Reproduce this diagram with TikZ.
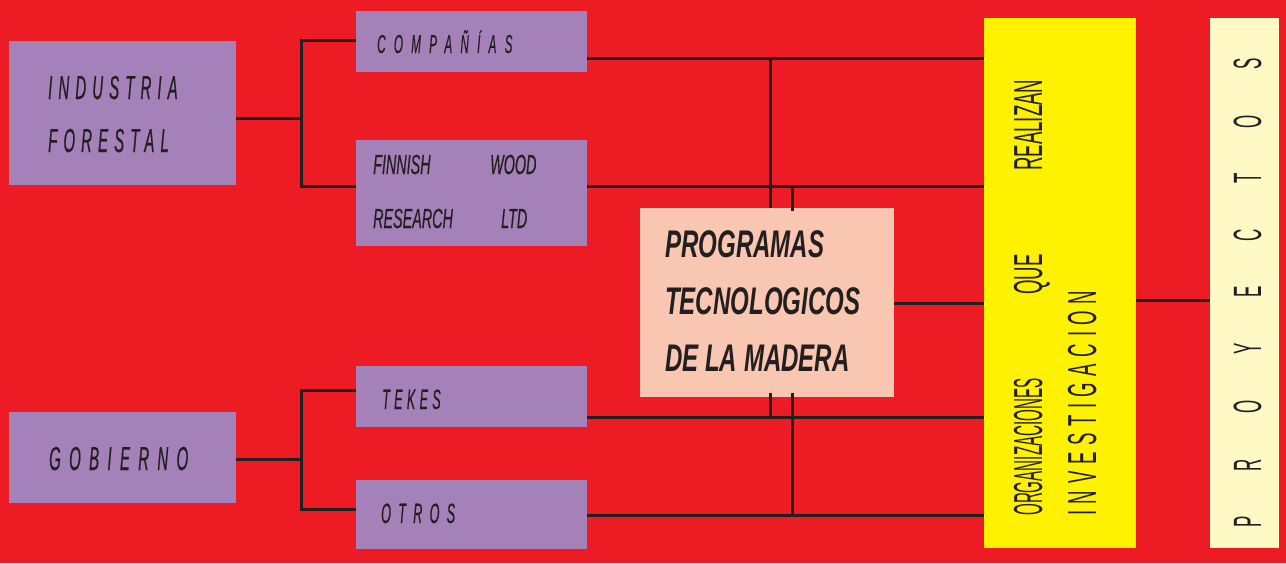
\documentclass[tikz,border=0pt]{standalone}
\usepackage{fontspec}
\setmainfont{Liberation Sans}
\newfontfamily\lblfont[FakeStretch=0.45, FakeBold=0.4]{Liberation Sans}
\newfontfamily\finfont[FakeStretch=0.52, FakeBold=0.4]{Liberation Sans}
\newfontfamily\progfont[FakeStretch=0.625]{Liberation Sans}
\newfontfamily\vertfont[FakeStretch=0.46]{Liberation Sans}
\newfontfamily\orgfont[FakeStretch=0.375]{Liberation Sans}
\newfontfamily\proyfont[FakeStretch=0.43]{Liberation Sans}
\definecolor{bgred}{HTML}{ED1C24}
\definecolor{boxpurple}{HTML}{A581B9}
\definecolor{peach}{HTML}{F9C6B1}
\definecolor{yel}{HTML}{FFF200}
\definecolor{cream}{HTML}{FFF9C6}
\definecolor{ink}{HTML}{231F20}
\tikzset{
  pbox/.style={fill=boxpurple, draw=none, anchor=north west, inner sep=0pt},
  ln/.style={draw=ink, line width=3pt},
  lbl/.style={anchor=base west, inner sep=0pt, text=ink},
}
\begin{document}
\begin{tikzpicture}[x=1pt,y=-1pt]
\useasboundingbox (0,0) rectangle (1286,563);
\fill[bgred] (0,0) rectangle (1286,563);
% boxes
\node[pbox, minimum width=227pt, minimum height=144pt] (ind) at (9,41) {};
\node[pbox, minimum width=227pt, minimum height=91pt] (gob) at (9,412) {};
\node[pbox, minimum width=231pt, minimum height=61pt] (comp) at (356,11) {};
\node[pbox, minimum width=231pt, minimum height=106pt] (fin) at (356,140) {};
\node[pbox, minimum width=231pt, minimum height=61pt] (tek) at (356,366) {};
\node[pbox, minimum width=231pt, minimum height=69pt] (otr) at (356,480) {};
\node[pbox, fill=peach, minimum width=254pt, minimum height=189pt] (prog) at (640,208) {};
\node[pbox, fill=yel, minimum width=152pt, minimum height=530pt] (org) at (984,18) {};
\node[pbox, fill=cream, minimum width=69pt, minimum height=530pt] (proy) at (1210,18) {};
% texts
\node[lbl, font={\lblfont\itshape\fontsize{33.3}{33.3}\selectfont\addfontfeature{LetterSpace=18.3}}] (tind1) at (48,99) {INDUSTRIA};
\node[lbl, font={\lblfont\itshape\fontsize{33.3}{33.3}\selectfont\addfontfeature{LetterSpace=18.3}}] (tind2) at (48,152) {FORESTAL};
\node[lbl, font={\lblfont\itshape\fontsize{33.3}{33.3}\selectfont\addfontfeature{LetterSpace=25}}] (tgob) at (49,470) {GOBIERNO};
\node[lbl, font={\lblfont\itshape\fontsize{26}{26}\selectfont\addfontfeature{LetterSpace=31.7}}] (tcomp) at (377,53) {COMPAÑÍAS};
\node[lbl, font={\lblfont\itshape\fontsize{28}{28}\selectfont\addfontfeature{LetterSpace=15.4}}] (ttek) at (382,409) {TEKES};
\node[lbl, font={\lblfont\itshape\fontsize{28}{28}\selectfont\addfontfeature{LetterSpace=26}}] (totr) at (381,523) {OTROS};
\node[lbl, font={\finfont\itshape\fontsize{27.6}{27.6}\selectfont}] (tf1) at (373,174) {FINNISH};
\node[lbl, font={\finfont\itshape\fontsize{27.6}{27.6}\selectfont}] (tf2) at (490,174) {WOOD};
\node[lbl, font={\finfont\itshape\fontsize{27.6}{27.6}\selectfont}] (tf3) at (373,228) {RESEARCH};
\node[lbl, font={\finfont\itshape\fontsize{27.6}{27.6}\selectfont}] (tf4) at (501,228) {LTD};
\node[lbl, font={\progfont\bfseries\itshape\fontsize{38.5}{38.5}\selectfont}] (tp1) at (665,257) {PROGRAMAS};
\node[lbl, font={\progfont\bfseries\itshape\fontsize{38.5}{38.5}\selectfont}] (tp2) at (665,314) {TECNOLOGICOS};
\node[lbl, font={\progfont\bfseries\itshape\fontsize{38.5}{38.5}\selectfont}] (tp3) at (665,371) {DE LA MADERA};
\node[lbl, rotate=90, font={\vertfont\fontsize{40.5}{40.5}\selectfont}] (treal) at (1042,171) {REALIZAN};
\node[lbl, rotate=90, font={\vertfont\fontsize{40.5}{40.5}\selectfont}] (tque) at (1042,295) {QUE};
\node[lbl, rotate=90, font={\orgfont\fontsize{40.5}{40.5}\selectfont}] (torg) at (1042,516) {ORGANIZACIONES};
\node[lbl, rotate=90, font={\vertfont\fontsize{40.5}{40.5}\selectfont\addfontfeature{LetterSpace=16.3}}] (tinv) at (1096,516) {INVESTIGACION};
\node[lbl, rotate=90, font={\proyfont\fontsize{39.5}{39.5}\selectfont\addfontfeature{LetterSpace=115}}] (tproy) at (1261,528) {PROYECTOS};
% left brackets
\coordinate (jind) at (301,118);
\coordinate (jgob) at (301,459);
\draw[ln] (ind.east |- jind) -- (jind);
\draw[ln] (comp.west |- 0,40) -| (jind) |- (fin.west |- 0,186);
\draw[ln] (gob.east |- jgob) -- (jgob);
\draw[ln] (tek.west |- 0,390) -| (jgob) |- (otr.west |- 0,509);
% right lines
\coordinate (hc) at (587,58);
\coordinate (hf) at (587,186);
\coordinate (ht) at (587,417);
\coordinate (ho) at (587,515);
\draw[ln] (hc) -- (org.west |- hc);
\draw[ln] (hf) -- (org.west |- hf);
\draw[ln] (ht) -- (org.west |- ht);
\draw[ln] (ho) -- (org.west |- ho);
\coordinate (pa) at (770,208);
\coordinate (pb) at (792,211);
\coordinate (pc) at (770,393);
\coordinate (pd) at (792,393);
\draw[ln] (pa) -- (pa |- hc);
\draw[ln] (pb) -- (pb |- hf);
\draw[ln] (pc) -- (pc |- ht);
\draw[ln] (pd) -- (pd |- ho);
\draw[ln] (prog.east |- 0,303) -- (org.west |- 0,303);
\draw[ln] (org.east |- 0,300) -- (proy.west |- 0,300);
\end{tikzpicture}
\end{document}
